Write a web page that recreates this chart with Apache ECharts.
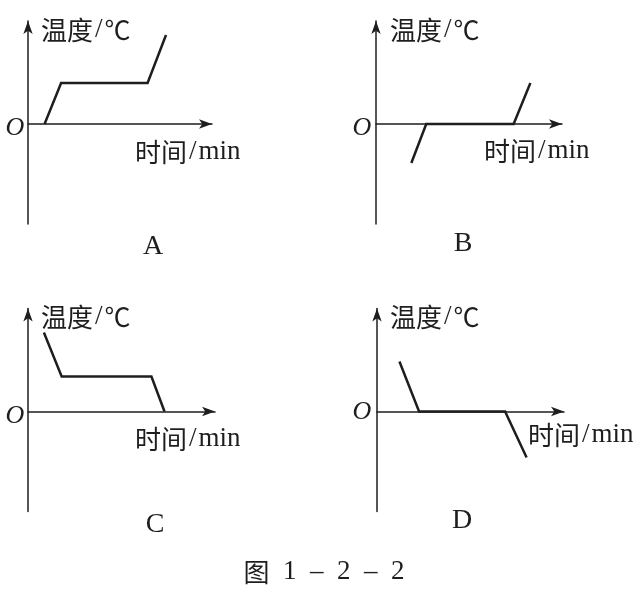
<!DOCTYPE html>
<html>
<head>
<meta charset="utf-8">
<script src="https://cdn.jsdelivr.net/npm/echarts@6/dist/echarts.min.js"></script>
<style>
  html, body { margin: 0; padding: 0; background: #fff; }
  #chart { width: 643px; height: 590px; }
</style>
</head>
<body>
<div id="chart"></div>
<script>
// 四个小图的名字
const panelNames = ['A', 'B', 'C', 'D'];
// 各图的折线数据 [时间, 温度]（示意单位）
const dataA = [[0.9, 0], [1.8, 2.05], [6.5, 2.05], [7.5, 4.45]];
const dataB = [[1.9, -1.95], [2.7, 0], [7.4, 0], [8.3, 2.05]];
const dataC = [[0.85, 3.95], [1.8, 1.75], [6.6, 1.75], [7.3, 0]];
const dataD = [[1.2, 2.5], [2.25, 0], [6.85, 0], [8, -2.3]];
const panelData = [dataA, dataB, dataC, dataD];
// 坐标轴文字（富文本：中文用 CJK 字体，斜杠和单位用衬线体）
const yName = '{c|温度}{s|/}{c|℃}';
const xName = '{c|时间}{s|/}{l|min}';
const originLabel = 'O';
const caption = '{c|图}{l|\u20021\u2002–\u20022\u2002–\u20022}';

const ink = '#1e1e1e';
const cjk = '"Noto Sans CJK SC", sans-serif';
const serif = '"Liberation Serif", serif';
const rich = {
  c: { fontFamily: cjk, fontSize: 26, fill: ink, color: ink },
  s: { fontFamily: serif, fontSize: 27, fill: ink, color: ink, padding: [0, 2] },
  l: { fontFamily: serif, fontSize: 27, fill: ink, color: ink }
};

// 每个小图的网格位置
const grids = [
  { left: 28, top: 21, width: 184, height: 203 },
  { left: 376, top: 21, width: 186, height: 203 },
  { left: 28, top: 308.5, width: 187, height: 203 },
  { left: 377, top: 308.5, width: 187, height: 203 }
];
// 文字位置
const textPos = [
  { y: [41, 30], x: [135, 152], o: [15, 128], n: [153, 247] },
  { y: [390, 30], x: [484, 151], o: [362, 128], n: [463, 244] },
  { y: [41, 317], x: [135, 439], o: [15, 416], n: [155, 525] },
  { y: [390, 317], x: [528, 435], o: [362, 412], n: [462, 521] }
];

const axisLine = {
  show: true,
  symbol: ['none', 'arrow'],
  symbolSize: [7, 13],
  lineStyle: { color: ink, width: 1.5 }
};

const xAxis = grids.map((g, i) => ({
  type: 'value', gridIndex: i, min: 0, max: 10,
  axisLine: axisLine, axisTick: { show: false }, axisLabel: { show: false },
  splitLine: { show: false }
}));
const yAxis = grids.map((g, i) => ({
  type: 'value', gridIndex: i, min: -5, max: 5.15,
  axisLine: axisLine, axisTick: { show: false }, axisLabel: { show: false },
  splitLine: { show: false }
}));
const series = panelData.map((d, i) => ({
  type: 'line', xAxisIndex: i, yAxisIndex: i, data: d,
  showSymbol: false, silent: true,
  lineStyle: { color: ink, width: 2.5, join: 'miter' },
  z: 3
}));

const graphic = [];
textPos.forEach((p, i) => {
  graphic.push({
    type: 'text', x: p.y[0], y: p.y[1],
    style: { text: yName, rich: rich, verticalAlign: 'middle' }
  });
  graphic.push({
    type: 'text', x: p.x[0], y: p.x[1],
    style: { text: xName, rich: rich, verticalAlign: 'middle' }
  });
  graphic.push({
    type: 'text', x: p.o[0], y: p.o[1],
    style: { text: originLabel, font: 'italic 26px ' + serif, fill: ink, align: 'center', verticalAlign: 'middle' }
  });
  graphic.push({
    type: 'text', x: p.n[0], y: p.n[1],
    style: { text: panelNames[i], font: '28px ' + serif, fill: ink, align: 'center', verticalAlign: 'middle' }
  });
});
graphic.push({
  type: 'text', x: 324, y: 572,
  style: { text: caption, rich: rich, align: 'center', verticalAlign: 'middle' }
});

const chart = echarts.init(document.getElementById('chart'), null, { renderer: 'canvas' });
chart.setOption({
  backgroundColor: '#fff',
  animation: false,
  grid: grids,
  xAxis: xAxis,
  yAxis: yAxis,
  series: series,
  graphic: graphic
});
</script>
</body>
</html>
